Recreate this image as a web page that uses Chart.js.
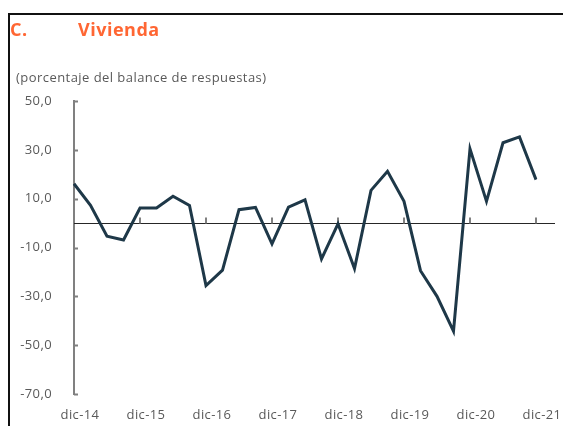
<!DOCTYPE html>
<html>
<head>
<meta charset="utf-8">
<script src="https://cdn.jsdelivr.net/npm/chart.js@4"></script>
<style>
  body { margin: 0; background: #fff; }
  #wrap { position: relative; width: 563px; height: 426px; overflow: hidden; font-family: "Open Sans", sans-serif; }
  #frameTop { position: absolute; left: 8px; top: 13px; width: 555px; height: 2px; background: #111; }
  #frameLeft { position: absolute; left: 8px; top: 13px; width: 2px; height: 413px; background: #111; }
  .title { position: absolute; top: 17px; color: #ff6633; font-weight: bold; font-size: 18px; letter-spacing: 0.5px; }
  #subtitle { position: absolute; left: 16px; top: 68px; color: #595959; font-size: 13px; letter-spacing: 0.45px; }
  canvas { position: absolute; left: 0; top: 0; }
</style>
</head>
<body>
<div id="wrap">
  <canvas id="chart" width="563" height="426"></canvas>
  <div id="frameTop"></div>
  <div id="frameLeft"></div>
  <div class="title" style="left:10px">C.</div>
  <div class="title" style="left:78px">Vivienda</div>
  <div id="subtitle">(porcentaje del balance de respuestas)</div>
</div>
<script>
const quarters = [
  "dic-14", "mar-15", "jun-15", "sep-15",
  "dic-15", "mar-16", "jun-16", "sep-16",
  "dic-16", "mar-17", "jun-17", "sep-17",
  "dic-17", "mar-18", "jun-18", "sep-18",
  "dic-18", "mar-19", "jun-19", "sep-19",
  "dic-19", "mar-20", "jun-20", "sep-20",
  "dic-20", "mar-21", "jun-21", "sep-21",
  "dic-21"
];
const vivienda = [
  16.1, 7.3, -5.4, -6.9,
  6.2, 6.2, 11.0, 7.2,
  -25.6, -19.3, 5.5, 6.4,
  -8.5, 6.5, 9.5, -14.7,
  -0.3, -18.6, 13.4, 21.2,
  8.9, -19.5, -30.0, -44.3,
  30.4, 8.9, 32.9, 35.3,
  17.8
];
const yTicks = [-70, -50, -30, -10, 10, 30, 50];

// zero line with tick marks plus inward y ticks
const axisMarks = {
  id: "axisMarks",
  beforeDraw(chart) {
    chart.ctx.letterSpacing = "0.4px";
  },
  beforeDatasetsDraw(chart) {
    const { ctx, chartArea, scales } = chart;
    const x = scales.x, y = scales.y;
    const y0 = Math.round(y.getPixelForValue(0)) + 0.5;
    ctx.save();
    ctx.strokeStyle = "#262626";
    ctx.lineWidth = 1;
    ctx.beginPath();
    ctx.moveTo(chartArea.left, y0);
    ctx.lineTo(chartArea.right + 19, y0);
    ctx.stroke();
    ctx.strokeStyle = "#808080";
    ctx.lineWidth = 2;
    ctx.beginPath();
    for (let i = 4; i < quarters.length; i += 4) {
      const px = Math.round(x.getPixelForValue(i));
      ctx.moveTo(px, y0);
      ctx.lineTo(px, y0 - 6);
    }
    yTicks.forEach(v => {
      const py = Math.round(y.getPixelForValue(v)) + 0.5;
      ctx.moveTo(chartArea.left, py);
      ctx.lineTo(chartArea.left + 4, py);
    });
    ctx.stroke();
    ctx.restore();
  }
};

new Chart(document.getElementById("chart"), {
  type: "line",
  data: {
    labels: quarters,
    datasets: [{
      data: vivienda,
      borderColor: "#1e3848",
      borderWidth: 3,
      pointRadius: 0,
      tension: 0,
      fill: false
    }]
  },
  options: {
    responsive: false,
    animation: false,
    layout: { padding: { left: 0, right: 27, top: 101, bottom: 0 } },
    plugins: { legend: { display: false }, tooltip: { enabled: false } },
    scales: {
      x: {
        afterFit: s => { s.height = 32; s.paddingLeft = 0; s.paddingRight = 0; },
        grid: { display: false, drawTicks: false },
        border: { display: false },
        ticks: {
          autoSkip: false,
          maxRotation: 0,
          padding: 13,
          labelOffset: 6,
          color: "#595959",
          font: { family: "Open Sans", size: 13 },
          callback: (v, i) => (i % 4 === 0 ? quarters[i] : "")
        }
      },
      y: {
        min: -70,
        max: 50,
        afterFit: s => { s.width = 74; },
        afterBuildTicks: s => { s.ticks = yTicks.map(v => ({ value: v })); },
        grid: { display: false, drawTicks: false },
        border: { display: true, color: "#808080", width: 2 },
        ticks: {
          padding: 22,
          color: "#595959",
          font: { family: "Open Sans", size: 13 },
          callback: v => v.toFixed(1).replace(".", ",")
        }
      }
    }
  },
  plugins: [axisMarks]
});
</script>
</body>
</html>
